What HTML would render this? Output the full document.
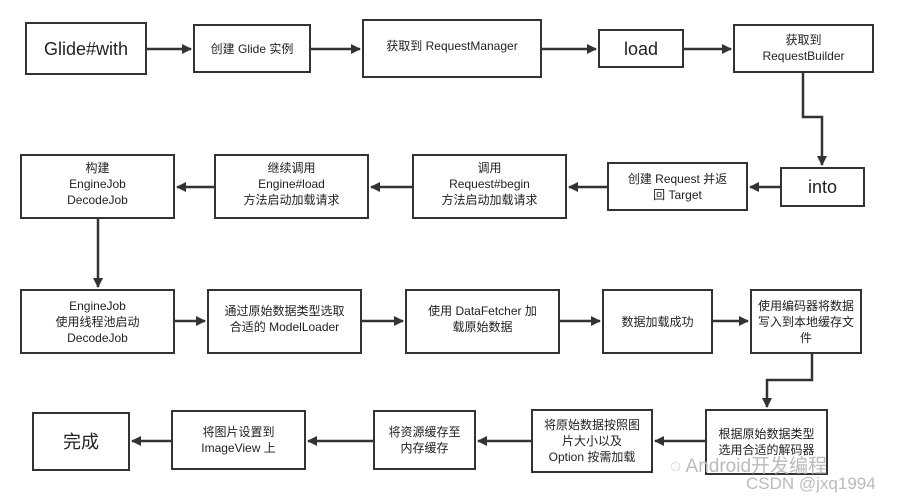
<!DOCTYPE html>
<html><head><meta charset="utf-8"><style>
body{margin:0;background:#fff;width:904px;height:503px;overflow:hidden;position:relative;font-family:"Liberation Sans","Noto Sans CJK SC",sans-serif;color:#222}
.b{position:absolute;border:2px solid #333;box-sizing:border-box;display:flex;align-items:center;justify-content:center;text-align:center;font-size:12px;line-height:16px;background:#fff}
.L{font-size:18px}
svg{position:absolute;left:0;top:0}
.wm{position:absolute;color:#bbb;font-size:19px}
</style></head><body>
<svg width="904" height="503">
<defs><marker id="a" markerWidth="10" markerHeight="10" refX="9" refY="5" orient="auto" markerUnits="userSpaceOnUse"><path d="M0,0 L10,5 L0,10z" fill="#333"/></marker></defs>
<g stroke="#333" stroke-width="2.5" fill="none" marker-end="url(#a)">
<line x1="147" y1="49" x2="191" y2="49"/>
<line x1="311" y1="49" x2="360" y2="49"/>
<line x1="542" y1="49" x2="596" y2="49"/>
<line x1="684" y1="49" x2="731" y2="49"/>
<polyline points="803,73 803,117 822,117 822,165"/>
<line x1="780" y1="187" x2="750" y2="187"/>
<line x1="607" y1="187" x2="569" y2="187"/>
<line x1="412" y1="187" x2="371" y2="187"/>
<line x1="214" y1="187" x2="177" y2="187"/>
<line x1="98" y1="219" x2="98" y2="287"/>
<line x1="175" y1="321" x2="205" y2="321"/>
<line x1="362" y1="321" x2="403" y2="321"/>
<line x1="560" y1="321" x2="600" y2="321"/>
<line x1="713" y1="321" x2="748" y2="321"/>
<polyline points="812,354 812,380 767,380 767,407"/>
<line x1="705" y1="441" x2="655" y2="441"/>
<line x1="531" y1="441" x2="478" y2="441"/>
<line x1="373" y1="441" x2="308" y2="441"/>
<line x1="171" y1="441" x2="132" y2="441"/>
</g></svg>
<div class="b L" style="left:25px;top:22px;width:122px;height:53px">Glide#with</div>
<div class="b" style="left:193px;top:24px;width:118px;height:49px">创建 Glide 实例</div>
<div class="b" style="left:362px;top:19px;width:180px;height:59px;padding-bottom:6px">获取到 RequestManager</div>
<div class="b L" style="left:598px;top:29px;width:86px;height:39px">load</div>
<div class="b" style="left:733px;top:24px;width:141px;height:49px;align-items:flex-start;padding-top:6px">获取到<br>RequestBuilder</div>
<div class="b" style="left:20px;top:154px;width:155px;height:65px;align-items:flex-start;padding-top:4px">构建<br>EngineJob<br>DecodeJob</div>
<div class="b" style="left:214px;top:154px;width:155px;height:65px;align-items:flex-start;padding-top:4px">继续调用<br>Engine#load<br>方法启动加载请求</div>
<div class="b" style="left:412px;top:154px;width:155px;height:65px;align-items:flex-start;padding-top:4px">调用<br>Request#begin<br>方法启动加载请求</div>
<div class="b" style="left:607px;top:162px;width:141px;height:49px">创建 Request 并返<br>回 Target</div>
<div class="b L" style="left:780px;top:167px;width:85px;height:40px">into</div>
<div class="b" style="left:20px;top:289px;width:155px;height:65px">EngineJob<br>使用线程池启动<br>DecodeJob</div>
<div class="b" style="left:207px;top:289px;width:155px;height:65px;padding-bottom:6px">通过原始数据类型选取<br>合适的 ModelLoader</div>
<div class="b" style="left:405px;top:289px;width:155px;height:65px;padding-bottom:6px">使用 DataFetcher 加<br>载原始数据</div>
<div class="b" style="left:602px;top:289px;width:111px;height:65px">数据加载成功</div>
<div class="b" style="left:750px;top:289px;width:112px;height:65px">使用编码器将数据<br>写入到本地缓存文<br>件</div>
<div class="b L" style="left:32px;top:412px;width:98px;height:59px">完成</div>
<div class="b" style="left:171px;top:410px;width:135px;height:60px">将图片设置到<br>ImageView 上</div>
<div class="b" style="left:373px;top:410px;width:103px;height:60px">将资源缓存至<br>内存缓存</div>
<div class="b" style="left:531px;top:409px;width:122px;height:64px">将原始数据按照图<br>片大小以及<br>Option 按需加载</div>
<div class="b" style="left:705px;top:409px;width:123px;height:66px">根据原始数据类型<br>选用合适的解码器</div>
<div class="wm" style="left:670px;top:451px">◌ Android开发编程</div>
<div class="wm" style="left:746px;top:474px;font-size:17px">CSDN @jxq1994</div>
</body></html>
